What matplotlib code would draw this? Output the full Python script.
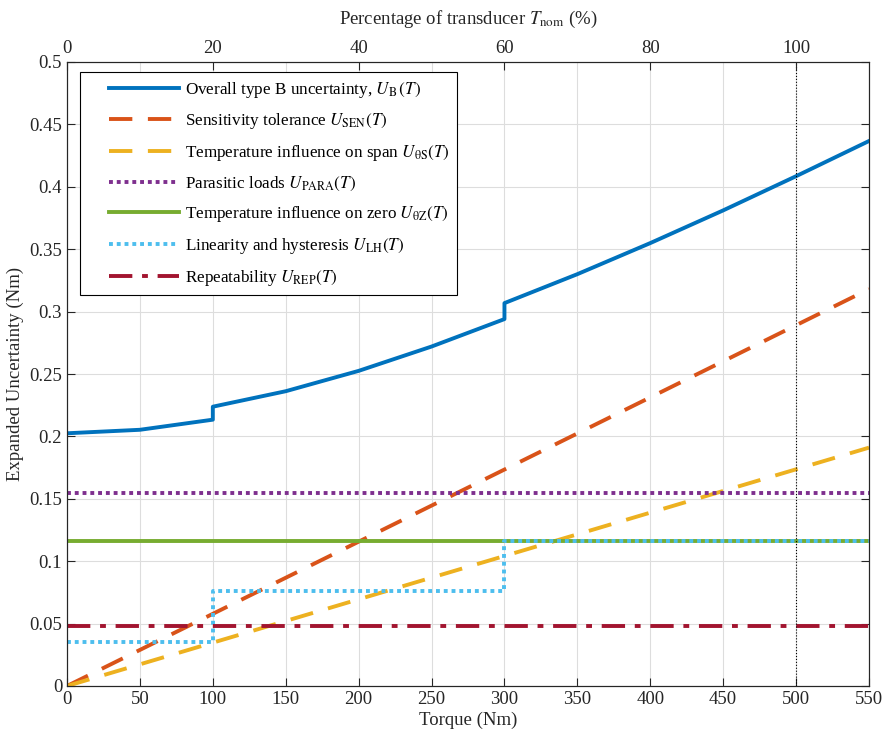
import matplotlib.pyplot as plt
import numpy as np

plt.rcParams['font.family'] = ['Liberation Serif', 'DejaVu Serif']
plt.rcParams['mathtext.fontset'] = 'stix'
plt.rcParams['font.size'] = 13.5

# torque grid (Nm); steps at 100 and 300 Nm appear twice
torque = [0, 50, 100, 100, 150, 200, 250, 300, 300, 350, 400, 450, 500, 550]
u_b = [0.2025, 0.2053, 0.2134, 0.2238, 0.2362, 0.2525, 0.2720, 0.2940,
       0.3068, 0.3300, 0.3549, 0.3811, 0.4085, 0.4367]

sen_t = [0, 550]
u_sen = [0.0, 0.318]
span_t = [0, 550]
u_span = [0.0, 0.191]

const_t = [0, 550]
u_para = [0.155, 0.155]
u_zero = [0.116, 0.116]
u_rep = [0.048, 0.048]

lh_t = [0, 100, 100, 300, 300, 550]
u_lh = [0.035, 0.035, 0.076, 0.076, 0.116, 0.116]

t_nom = 500
pct_ticks = [0, 20, 40, 60, 80, 100]

axis_col = '#262626'

fig = plt.figure(figsize=(8.85, 7.33), dpi=100)
ax = fig.add_axes([67/885, 1 - 686/733, 802/885, 624/733])

ax.plot(torque, u_b, color='#0072BD', lw=2.8, label=r'Overall type B uncertainty, $U_{\rm B}\,(T)$')
ax.plot(sen_t, u_sen, color='#D95319', lw=2.8, dashes=(6, 4), label=r'Sensitivity tolerance $U_{\rm SEN}(T)$')
ax.plot(span_t, u_span, color='#EDB120', lw=2.8, dashes=(6, 4), label=r'Temperature influence on span $U_{\rm \theta S}(T)$')
ax.plot(const_t, u_para, color='#7E2F8E', lw=2.8, dashes=(1, 1), label=r'Parasitic loads $U_{\rm PARA}(T)$')
ax.plot(const_t, u_zero, color='#77AC30', lw=2.8, label=r'Temperature influence on zero $U_{\rm \theta Z}(T)$')
ax.plot(lh_t, u_lh, color='#4DBEEE', lw=2.8, dashes=(1, 1), label=r'Linearity and hysteresis $U_{\rm LH}(T)$')
ax.plot(const_t, u_rep, color='#A2142F', lw=2.8, dashes=(6, 2.5, 1.5, 2.5), label=r'Repeatability $U_{\rm REP}(T)$')

ax.axvline(t_nom, color='black', lw=0.8, ls=':')

ax.set_xlim(0, 550)
ax.set_ylim(0, 0.5)
ax.set_xticks(np.arange(0, 551, 50))
ax.set_yticks(np.arange(0, 0.501, 0.05))
ax.set_yticklabels(['0', '0.05', '0.1', '0.15', '0.2', '0.25', '0.3', '0.35', '0.4', '0.45', '0.5'])
ax.grid(True, color='#dddddd', lw=0.8)
ax.set_axisbelow(True)
ax.tick_params(direction='in', top=True, right=True, length=6, width=0.8,
               color=axis_col, labelcolor=axis_col)
ax.set_xlabel('Torque (Nm)', labelpad=3, color=axis_col)
ax.set_ylabel('Expanded Uncertainty (Nm)', labelpad=4, color=axis_col)
for s in ax.spines.values():
    s.set_linewidth(0.8)
    s.set_color(axis_col)

# percentage of nominal torque on the top axis
top = ax.twiny()
top.set_xlim(0, 550 / t_nom * 100)
top.set_xticks(pct_ticks)
top.tick_params(direction='in', length=6, width=0.8, color=axis_col, labelcolor=axis_col)
top.set_xlabel(r'Percentage of transducer $T_{\rm nom}$ (%)', labelpad=12, color=axis_col)
for s in top.spines.values():
    s.set_linewidth(0.8)
    s.set_color(axis_col)

leg = ax.legend(loc='upper left', bbox_to_anchor=(0.016, 0.984), borderaxespad=0,
                handlelength=5.35, labelspacing=0.68, fancybox=False, framealpha=1,
                edgecolor='black', borderpad=0.45, handletextpad=0.35, fontsize=12.3)
leg.get_frame().set_linewidth(0.8)
# draw the legend samples only over the right part of the handle box
for ln in leg.get_lines():
    xd = np.asarray(ln.get_xdata(), dtype=float)
    x0, x1 = xd.min(), xd.max()
    ln.set_xdata(np.linspace(x0 + 0.235 * (x1 - x0), x1, len(xd)))

fig.savefig('out.png', dpi=100)
